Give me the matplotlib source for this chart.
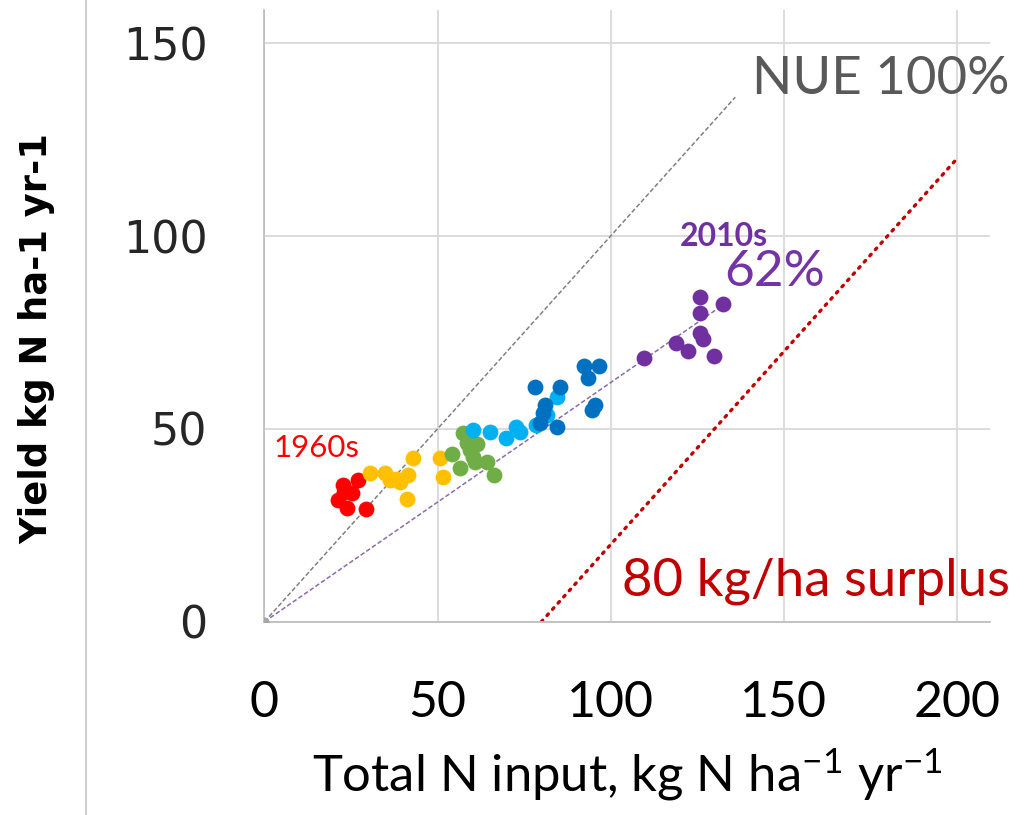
import matplotlib
matplotlib.use("Agg")
import matplotlib.pyplot as plt
from matplotlib.lines import Line2D

# N input (x) and yield (y), kg N per ha per year, grouped by decade
red_x = [22.6, 27.1, 25.2, 21.3, 23.7, 29.3, 23.0]
red_y = [35.4, 36.7, 33.3, 31.6, 29.4, 29.1, 33.5]
yellow_x = [30.5, 34.8, 36.2, 39.1, 41.5, 43.0, 41.1, 50.7, 51.6, 38.0]
yellow_y = [38.5, 38.5, 36.7, 36.3, 38.0, 42.4, 31.7, 42.4, 37.4, 37.0]
green_x = [57.4, 58.4, 61.3, 54.1, 60.3, 56.5, 64.2, 60.8, 66.3, 59.5]
green_y = [48.8, 46.3, 46.0, 43.4, 42.8, 39.8, 41.5, 41.5, 38.0, 44.5]
lblue_x = [60.1, 65.1, 69.8, 72.8, 73.8, 78.5, 84.4, 81.5]
lblue_y = [49.7, 49.3, 47.7, 50.6, 49.3, 51.0, 58.3, 53.5]
blue_x = [92.3, 96.7, 93.5, 78.1, 85.4, 81.0, 80.5, 95.5, 94.5, 79.6, 84.4]
blue_y = [66.3, 66.3, 63.1, 60.8, 60.9, 56.2, 54.0, 56.2, 54.9, 51.6, 50.6]
purple_x = [125.8, 132.5, 125.8, 125.8, 126.7, 118.9, 122.4, 129.9, 109.6]
purple_y = [84.3, 82.3, 80.1, 74.9, 73.2, 72.3, 70.2, 69.0, 68.4]

decades = [
    (red_x, red_y, "#FF0000"),
    (yellow_x, yellow_y, "#FFC000"),
    (green_x, green_y, "#70AD47"),
    (lblue_x, lblue_y, "#00B0F0"),
    (blue_x, blue_y, "#0070C0"),
    (purple_x, purple_y, "#7030A0"),
]

# reference lines
nue_full_x = [0, 136]
nue_recent = 0.62
recent_end_x = 132.5
surplus = 80
surplus_end_x = 200

x_ticks = [0, 50, 100, 150, 200]
y_ticks = [0, 50, 100, 150]

body = ["Lato", "DejaVu Sans"]
plt.rcParams["mathtext.fontset"] = "custom"
plt.rcParams["mathtext.rm"] = "Lato"
plt.rcParams["mathtext.default"] = "regular"

fig = plt.figure(figsize=(10.36, 8.15), dpi=100)
fig.patch.set_facecolor("white")
ax = fig.add_axes([0.2553, 0.2372, 0.7003, 0.7505])
ax.set_xlim(0, 209.6)
ax.set_ylim(0, 158.6)

for s in ["top", "right"]:
    ax.spines[s].set_visible(False)
for s in ["left", "bottom"]:
    ax.spines[s].set_color("#BFBFBF")
    ax.spines[s].set_linewidth(1.3)

ax.set_xticks(x_ticks)
ax.set_yticks(y_ticks)
ax.grid(True, color="#D9D9D9", linewidth=1.3)
ax.set_axisbelow(True)
ax.tick_params(length=0)
ax.tick_params(axis="x", pad=42)
ax.tick_params(axis="y", pad=41)
for lbl in ax.get_xticklabels():
    lbl.set_family(body)
    lbl.set_fontsize(36)
    lbl.set_color("#000000")
for lbl in ax.get_yticklabels():
    lbl.set_family("DejaVu Sans")
    lbl.set_fontsize(32)
    lbl.set_color("#262626")

# NUE lines and surplus line
ax.plot(nue_full_x, nue_full_x, color="#808080", linestyle=(0, (3, 1.5)),
        linewidth=1.1, zorder=2)
ax.plot([0, recent_end_x], [0, nue_recent * recent_end_x], color="#8A6BB0",
        linestyle=(0, (3, 1.5)), linewidth=1.1, zorder=2)
ax.plot([surplus, surplus_end_x], [0, surplus_end_x - surplus], color="#C00000",
        linestyle=(0, (0.6, 1.9)), linewidth=2.4, dash_capstyle="round", zorder=2)
ax.scatter([0], [0], s=55, color="#A6A6A6", zorder=3, linewidths=0)

for xs, ys, c in decades:
    ax.scatter(xs, ys, s=130, color=c, linewidths=0, zorder=4)

ax.text(178, 140.7, "NUE 100%", color="#595959", fontsize=38, family=body,
        ha="center", va="center")
ax.text(132.7, 100.0, "2010s", color="#7030A0", fontsize=23, family=body,
        fontweight="bold", ha="center", va="center")
ax.text(147.5, 90.6, "62%", color="#7534A6", fontsize=37, family=body,
        ha="center", va="center")
ax.text(15, 45.0, "1960s", color="#FF0000", fontsize=22.5, family=body,
        ha="center", va="center")
ax.text(159.3, 6.9, "80 kg/ha surplus", color="#C00000", fontsize=38,
        family=body, ha="center", va="baseline")

fig.text(0.606, 0.049, r"Total N input, kg N ha$^{-1}$ yr$^{-1}$",
         fontsize=36.5, family=body, ha="center", va="center")
fig.text(0.036, 0.584, "Yield kg N ha-1 yr-1", rotation=90,
         fontsize=26.5, family="DejaVu Sans",
         fontweight="bold", ha="center", va="center")

# thin rule down the left side
fig.add_artist(Line2D([0.083, 0.083], [0, 1], color="#D0D0D0", linewidth=1.5))

fig.savefig("out.png", dpi=100, facecolor="white")
